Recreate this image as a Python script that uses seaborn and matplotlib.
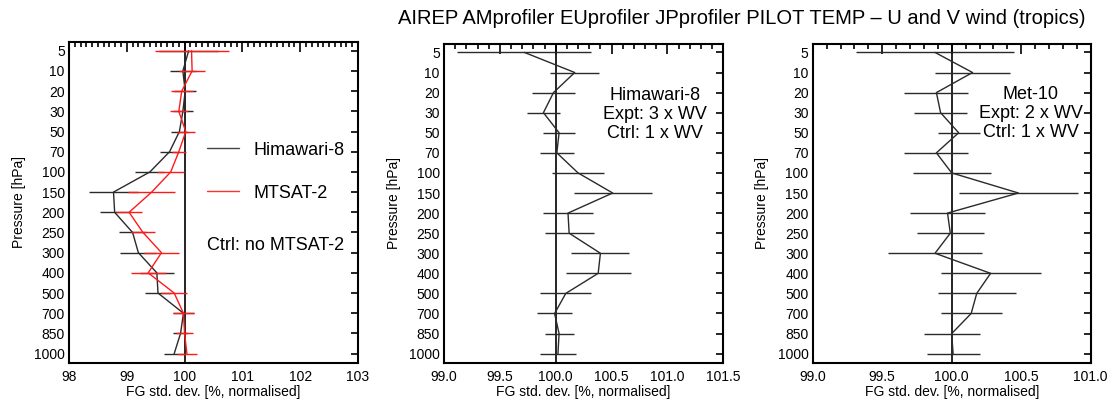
import numpy as np
import pandas as pd
import matplotlib
matplotlib.use("Agg")
import matplotlib.pyplot as plt
from matplotlib.ticker import MultipleLocator
from matplotlib.lines import Line2D
import seaborn as sns

sns.set_theme(style="white")
plt.rcParams["font.family"] = ["Liberation Sans", "DejaVu Sans"]
plt.rcParams["text.color"] = "black"
plt.rcParams["axes.labelcolor"] = "black"
plt.rcParams["xtick.color"] = "black"
plt.rcParams["ytick.color"] = "black"

# Pressure levels [hPa], plotted on an evenly spaced axis
levels = [5, 10, 20, 30, 50, 70, 100, 150, 200, 250, 300, 400, 500, 700, 850, 1000]

# Panel 1: Himawari-8 and MTSAT-2 denial (Ctrl: no MTSAT-2)
him_mean = [100.07, 99.97, 100.01, 99.97, 99.91, 99.74, 99.40, 98.77,
            98.79, 99.10, 99.20, 99.52, 99.54, 99.98, 99.93, 99.82]
him_err = [0.51, 0.23, 0.19, 0.17, 0.15, 0.16, 0.25, 0.43,
           0.25, 0.23, 0.31, 0.29, 0.23, 0.18, 0.13, 0.18]
mts_mean = [100.12, 100.13, 99.95, 99.90, 100.02, 99.90, 99.76, 99.43,
            99.04, 99.28, 99.60, 99.37, 99.82, 99.98, 100.00, 100.04]
mts_err = [0.64, 0.23, 0.19, 0.16, 0.16, 0.12, 0.23, 0.41,
           0.22, 0.21, 0.30, 0.30, 0.22, 0.18, 0.15, 0.17]

# Panel 2: Himawari-8, 3 x WV vs 1 x WV
h3_mean = [99.72, 100.17, 99.98, 99.89, 100.03, 100.01, 100.20, 100.51,
           100.11, 100.12, 100.40, 100.38, 100.09, 99.99, 100.03, 100.02]
h3_err = [0.60, 0.22, 0.19, 0.15, 0.14, 0.15, 0.23, 0.35,
          0.22, 0.22, 0.26, 0.29, 0.23, 0.16, 0.13, 0.16]

# Panel 3: Met-10, 2 x WV vs 1 x WV
m10_mean = [99.88, 100.15, 99.89, 99.92, 100.05, 99.89, 100.00, 100.48,
            99.97, 99.99, 99.88, 100.28, 100.18, 100.14, 100.00, 100.01]
m10_err = [0.57, 0.27, 0.23, 0.19, 0.15, 0.23, 0.28, 0.43,
           0.27, 0.24, 0.34, 0.36, 0.28, 0.22, 0.20, 0.19]

title = "AIREP AMprofiler EUprofiler JPprofiler PILOT TEMP \u2013 U and V wind (tropics)"
xlabel = "FG std. dev. [%, normalised]"
ylabel = "Pressure [hPa]"

W, H = 1110, 401
fig = plt.figure(figsize=(W / 100, H / 100), dpi=100)


def box(x0, y0, x1, y1):
    return [x0 / W, 1 - y1 / H, (x1 - x0) / W, (y1 - y0) / H]


ax1 = fig.add_axes(box(69, 42.3, 358, 362.7))
ax2 = fig.add_axes(box(444, 44, 723.3, 362.7))
ax3 = fig.add_axes(box(812.7, 44, 1090.7, 362.7))

ypos = np.arange(len(levels))
LINE_BLACK = "#2a2a2a"


def profile(ax, mean, err, color):
    df = pd.DataFrame({"x": mean, "y": ypos})
    sns.lineplot(data=df, x="x", y="y", sort=False, estimator=None,
                 color=color, lw=1.0, ax=ax, legend=False)
    ax.errorbar(mean, ypos, xerr=err, fmt="none", ecolor=color,
                elinewidth=1.0, capsize=0)


def style(ax, xlim, major, minor, tick_fs):
    ax.axvline(100, color="black", lw=1.2, zorder=1)
    ax.set_xlim(*xlim)
    ax.set_ylim(15.45, -0.42)
    ax.set_yticks(ypos)
    ax.set_yticklabels([str(v) for v in levels])
    ax.xaxis.set_major_locator(MultipleLocator(major))
    ax.xaxis.set_minor_locator(MultipleLocator(minor))
    ax.tick_params(axis="both", which="both", direction="in",
                   top=True, right=True, colors="black",
                   labelsize=tick_fs, width=1.2)
    ax.tick_params(axis="x", which="major", length=7, pad=5)
    ax.tick_params(axis="x", which="minor", length=3.5)
    ax.tick_params(axis="y", which="major", length=5, pad=3)
    ax.tick_params(axis="y", which="minor", left=False, right=False)
    for s in ax.spines.values():
        s.set_color("black")
        s.set_linewidth(1.5)
    ax.set_xlabel(xlabel, fontsize=10, labelpad=1)
    ax.set_ylabel(ylabel, fontsize=10, labelpad=6)


# Panel 1
profile(ax1, him_mean, him_err, LINE_BLACK)
profile(ax1, mts_mean, mts_err, "#ff1a1a")
style(ax1, (98, 103), 1, 0.1, 10)
ax1.xaxis.set_major_formatter(plt.FuncFormatter(lambda v, p: f"{v:.0f}"))
handles = [Line2D([], [], color="#444444", lw=1.0),
           Line2D([], [], color="#ff3030", lw=1.0)]
ax1.legend(handles, ["Himawari-8", "MTSAT-2"], loc="upper left",
           bbox_to_anchor=(0.478, 0.69), frameon=False, fontsize=13,
           handlelength=1.75, handletextpad=0.8, labelspacing=1.45,
           borderpad=0, borderaxespad=0, labelcolor="black")
ax1.text(0.478, 0.367, "Ctrl: no MTSAT-2", transform=ax1.transAxes,
         fontsize=13, ha="left", va="center")

# Panel 2
profile(ax2, h3_mean, h3_err, LINE_BLACK)
style(ax2, (99.0, 101.5), 0.5, 0.1, 10)
ax2.xaxis.set_major_formatter(plt.FuncFormatter(lambda v, p: f"{v:.1f}"))
ax2.text(0.755, 0.78, "Himawari-8\nExpt: 3 x WV\nCtrl: 1 x WV",
         transform=ax2.transAxes, fontsize=13, ha="center", va="center",
         multialignment="center", linespacing=1.15)

# Panel 3
profile(ax3, m10_mean, m10_err, LINE_BLACK)
style(ax3, (99.0, 101.0), 0.5, 0.1, 10)
ax3.xaxis.set_major_formatter(plt.FuncFormatter(lambda v, p: f"{v:.1f}"))
ax3.text(0.785, 0.782, "Met-10\nExpt: 2 x WV\nCtrl: 1 x WV",
         transform=ax3.transAxes, fontsize=13, ha="center", va="center",
         multialignment="center", linespacing=1.15)

fig.text(742 / W, 1 - 18 / H, title, fontsize=14.5, ha="center", va="center")

fig.savefig("out.png", dpi=100)
